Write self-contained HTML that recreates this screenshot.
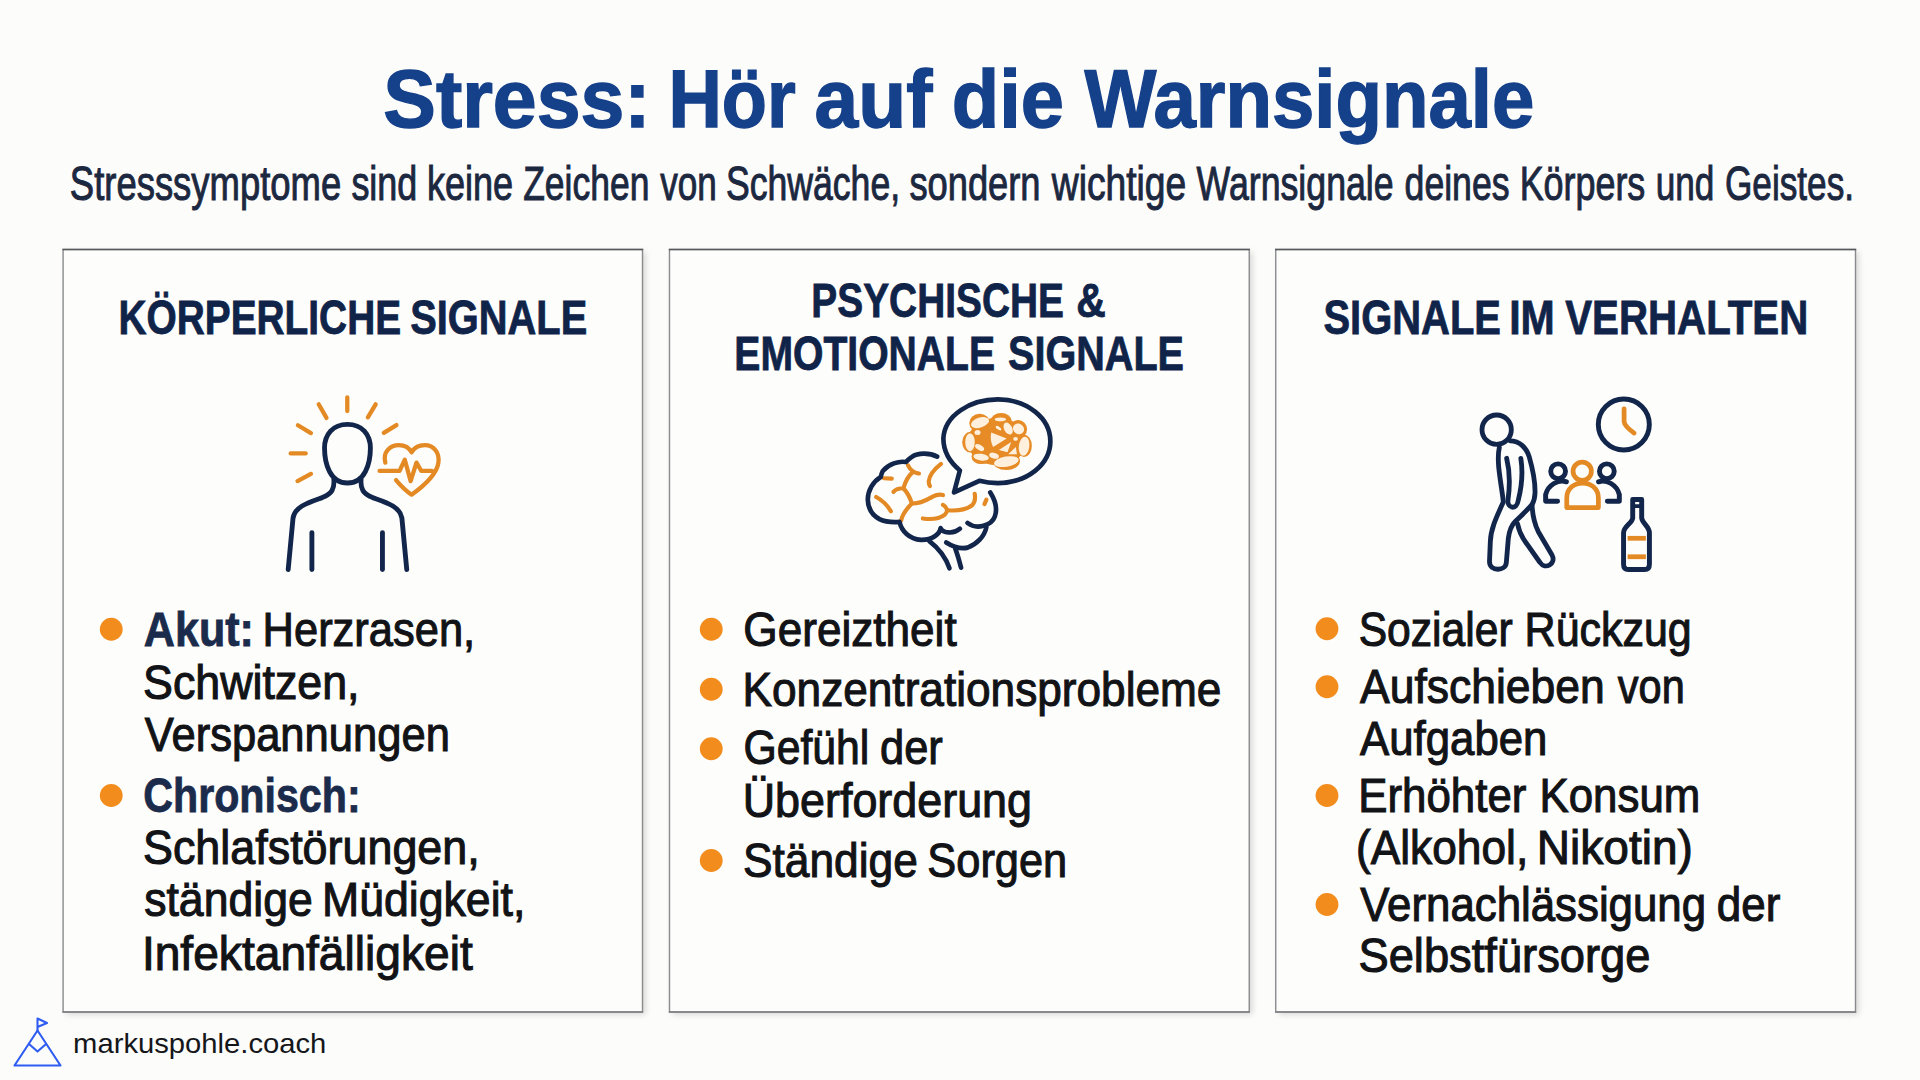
<!DOCTYPE html>
<html lang="de"><head><meta charset="utf-8"><title>Stress: Hör auf die Warnsignale</title>
<style>
html,body{margin:0;padding:0;background:#fcfcfa;}
body{width:1920px;height:1080px;overflow:hidden;position:relative;font-family:"Liberation Sans",sans-serif;}
svg{position:absolute;left:0;top:0;display:block;}
text{font-family:"Liberation Sans",sans-serif;white-space:pre;}
.b{font-weight:700;}
</style></head><body>
<svg width="1920" height="1080" viewBox="0 0 1920 1080">
<defs>
<filter id="sh" x="-5%" y="-5%" width="112%" height="112%"><feGaussianBlur stdDeviation="3"/></filter>
</defs>
<rect width="1920" height="1080" fill="#fcfcfa"/>

<rect x="66.10" y="252.00" width="579.40" height="762.50" fill="#000" opacity="0.15" filter="url(#sh)"/>
<rect x="672.50" y="252.00" width="579.75" height="762.50" fill="#000" opacity="0.15" filter="url(#sh)"/>
<rect x="1278.75" y="252.00" width="579.75" height="762.50" fill="#000" opacity="0.15" filter="url(#sh)"/>
<rect x="63.10" y="249.50" width="579.40" height="762.50" fill="#fdfdfb" stroke="#8a8b8e" stroke-width="1.4"/>
<path d="M62.40 249.50 H643.20" stroke="#56585c" stroke-width="1.3" fill="none"/>
<path d="M62.40 1012.00 H643.20" stroke="#7c7e82" stroke-width="1.5" fill="none"/>
<rect x="669.50" y="249.50" width="579.75" height="762.50" fill="#fdfdfb" stroke="#8a8b8e" stroke-width="1.4"/>
<path d="M668.80 249.50 H1249.95" stroke="#56585c" stroke-width="1.3" fill="none"/>
<path d="M668.80 1012.00 H1249.95" stroke="#7c7e82" stroke-width="1.5" fill="none"/>
<rect x="1275.75" y="249.50" width="579.75" height="762.50" fill="#fdfdfb" stroke="#8a8b8e" stroke-width="1.4"/>
<path d="M1275.05 249.50 H1856.20" stroke="#56585c" stroke-width="1.3" fill="none"/>
<path d="M1275.05 1012.00 H1856.20" stroke="#7c7e82" stroke-width="1.5" fill="none"/>
<g transform="translate(260 380) scale(0.19436)" fill="none" stroke-linecap="round" stroke-linejoin="round">
<g stroke="#12254a" stroke-width="25">
<path d="M450 228 C525 228 568 280 568 350 C568 430 540 530 450 530 C360 530 332 430 332 350 C332 280 375 228 450 228 Z"/>
<path d="M380 512 C384 560 370 585 320 605 C250 630 180 650 170 710 L145 975"/>
<path d="M520 512 C516 560 530 585 580 605 C650 630 720 650 730 710 L755 975"/>
<path d="M267 785 L267 975"/>
<path d="M630 785 L630 975"/>
</g>
<g stroke="#e48a25" stroke-width="22">
<path d="M449 90 L449 160"/>
<path d="M302 125 L342 195"/>
<path d="M595 125 L555 192"/>
<path d="M195 233 L262 273"/>
<path d="M702 232 L637 272"/>
<path d="M158 378 L235 378"/>
<path d="M193 520 L262 483"/>
<path d="M645 425 C630 370 670 335 715 335 C745 335 768 350 780 372 C792 350 815 335 848 335 C895 335 925 375 918 425 C910 480 850 540 780 590 C750 570 725 545 700 515"/>
<path d="M615 468 L718 468 L745 410 L775 520 L805 425 L830 468 L885 468"/>
</g>
</g>
<g fill="none" stroke-linecap="round" stroke-linejoin="round">
<g transform="translate(860 440) scale(0.12965)">
<g stroke="#e48a25" stroke-width="32">
<path d="M185 295 L245 298"/>
<path d="M125 440 C170 465 215 510 238 550"/>
<path d="M370 195 C385 230 420 255 455 258"/>
<path d="M405 250 C360 290 345 335 335 372 C305 372 270 385 258 400"/>
<path d="M335 372 C370 410 388 450 400 490 C350 540 325 580 318 620"/>
<path d="M400 490 C470 492 515 462 560 437 C590 422 615 418 640 425"/>
<path d="M625 185 C570 228 535 270 530 320 C530 335 535 348 540 355"/>
<path d="M485 605 C560 617 620 602 655 575 C685 548 668 515 640 500"/>
<path d="M680 542 C760 548 830 532 868 500 C890 475 890 445 885 415"/>
<path d="M960 495 L975 460"/>
</g>
<g stroke="#12254a" stroke-width="36">
<path d="M595 128 C540 100 450 95 400 130 C385 140 368 155 355 170 C300 160 220 185 175 240 C168 255 163 270 160 285 C100 320 60 390 60 460 C62 530 95 580 150 610 C195 632 250 636 305 632 C320 700 380 765 470 770 C560 772 615 725 622 680 C640 718 720 728 770 685"/>
<path d="M1005 405 C1040 460 1065 520 1040 590 C1015 660 900 695 830 640"/>
<path d="M975 672 C960 745 900 805 830 830 C760 845 700 812 665 790"/>
<path d="M535 780 C600 830 655 885 690 990"/>
<path d="M735 838 C755 890 770 950 780 985"/>
</g>
</g>
<g transform="translate(950 400) scale(0.07407)">
<g fill="#e68b25" stroke="none">
<ellipse cx="635" cy="560" rx="400" ry="320"/>
<ellipse cx="400" cy="310" rx="140" ry="125"/>
<ellipse cx="690" cy="290" rx="145" ry="115"/>
<ellipse cx="920" cy="395" rx="120" ry="125"/>
<ellipse cx="1000" cy="620" rx="105" ry="150"/>
<ellipse cx="760" cy="825" rx="185" ry="120"/>
<ellipse cx="425" cy="765" rx="135" ry="100"/>
<ellipse cx="275" cy="570" rx="110" ry="140"/>
</g>
<g fill="#fef0dc" stroke="none">
<ellipse cx="405" cy="305" rx="127" ry="67" transform="rotate(-18 405 305)"/>
<ellipse cx="680" cy="262" rx="77" ry="26"/>
<ellipse cx="785" cy="385" rx="54" ry="87" transform="rotate(-28 785 385)"/>
<ellipse cx="925" cy="390" rx="77" ry="69" transform="rotate(35 925 390)"/>
<ellipse cx="270" cy="570" rx="64" ry="122"/>
<path d="M556 440 L765 520 L582 636 Q535 540 556 440 Z"/>
<ellipse cx="1000" cy="625" rx="71" ry="129" transform="rotate(8 1000 625)"/>
<ellipse cx="400" cy="642" rx="67" ry="36" transform="rotate(30 400 642)"/>
<path d="M660 676 L826 566 L776 706 Z"/>
<path d="M786 734 L888 636 L904 734 Z"/>
<ellipse cx="420" cy="772" rx="105" ry="46" transform="rotate(8 420 772)"/>
<ellipse cx="595" cy="752" rx="67" ry="38" transform="rotate(15 595 752)"/>
<ellipse cx="760" cy="832" rx="168" ry="69" transform="rotate(-10 760 832)"/>
<ellipse cx="372" cy="440" rx="41" ry="34"/>
<ellipse cx="885" cy="525" rx="31" ry="26"/>
<ellipse cx="655" cy="380" rx="44" ry="20" transform="rotate(35 655 380)"/>
</g>
</g>
<g transform="translate(850 380) scale(0.19452)" stroke="#12254a" stroke-width="24">
<path d="M565 465 C510 420 480 360 480 300 C487 180 620 100 760 100 C910 100 1030 195 1030 315 C1030 435 910 530 760 530 C725 530 695 526 665 518 L535 578 Z"/>
</g>
</g>
<g fill="none" stroke-linecap="round" stroke-linejoin="round">
<g transform="translate(1470 400) scale(0.16667)" stroke="#12254a" stroke-width="29">
<circle cx="160" cy="178" r="88"/>
<path d="M240 245 C300 245 340 290 355 340 C375 410 392 500 390 560 C388 600 380 615 372 628 C340 665 300 700 270 730 C245 755 235 790 230 830 L218 975 C214 1030 118 1030 117 970 L122 850 C125 770 160 700 200 612 C195 560 180 480 172 400 C168 350 170 310 176 285"/>
<path d="M372 628 C375 690 385 740 410 790 L492 930 C520 985 450 1020 420 975 L335 855 C305 815 292 780 285 742"/>
<path d="M220 350 C240 430 242 500 228 600 C222 650 280 665 290 600 C315 500 318 430 305 350"/>
</g>
<g transform="translate(1540 390) scale(0.17591)">
<g stroke="#12254a" stroke-width="28">
<circle cx="476.5" cy="196.5" r="145"/>
<circle cx="103" cy="462" r="42"/>
<path d="M150 522 C105 505 45 540 32 595 L32 632 L100 632"/>
<circle cx="380" cy="462" r="42"/>
<path d="M333 522 C378 505 438 540 451 595 L451 632 L383 632"/>
<path d="M527 622 L578 622 L578 728 C582 760 622 775 622 812 L622 990 Q622 1020 595 1020 L502 1020 Q475 1020 475 990 L475 812 C475 775 522 760 527 728 Z"/>
<path d="M527 660 L578 660" stroke-width="22"/>
</g>
<g stroke="#e48a25" stroke-width="27">
<path d="M478 108 L478 180 Q480 205 535 245"/>
<circle cx="240" cy="462" r="52"/>
<path d="M152 668 L152 615 C152 500 332 500 332 615 L332 668 Z"/>
<path d="M498 843 L602 843" stroke-linecap="butt"/>
<path d="M498 948 L602 948" stroke-linecap="butt"/>
</g>
</g>
</g>
<g fill="none" stroke="#2f5cf2" stroke-width="2.1" stroke-linejoin="round" stroke-linecap="round">
<path d="M37.5 1030.5 L14.5 1065.5 L60.5 1065.5 Z"/>
<path d="M29 1044 L37.5 1051.5 L45.5 1044.5"/>
<path d="M37.5 1030.5 L37.5 1018.5 L47 1023 L37.5 1027"/>
</g>
<circle cx="111.25" cy="629.25" r="11.4" fill="#f28c1c"/>
<circle cx="111.25" cy="795.5" r="11.4" fill="#f28c1c"/>
<circle cx="711.25" cy="629.25" r="11.4" fill="#f28c1c"/>
<circle cx="711.25" cy="689.25" r="11.4" fill="#f28c1c"/>
<circle cx="711.25" cy="748.75" r="11.4" fill="#f28c1c"/>
<circle cx="711.25" cy="860.5" r="11.4" fill="#f28c1c"/>
<circle cx="1327" cy="628.75" r="11.4" fill="#f28c1c"/>
<circle cx="1327" cy="686.75" r="11.4" fill="#f28c1c"/>
<circle cx="1327" cy="795.5" r="11.4" fill="#f28c1c"/>
<circle cx="1327" cy="904.5" r="11.4" fill="#f28c1c"/>
<text class="b" y="126.70" font-size="81.4" fill="#15408a" stroke="#15408a" stroke-width="1.4"><tspan x="383.34" textLength="267.26" lengthAdjust="spacingAndGlyphs">Stress:</tspan> <tspan x="668.40" textLength="127.31" lengthAdjust="spacingAndGlyphs">Hör</tspan> <tspan x="814.60" textLength="117.71" lengthAdjust="spacingAndGlyphs">auf</tspan> <tspan x="951.84" textLength="112.16" lengthAdjust="spacingAndGlyphs">die</tspan> <tspan x="1084.45" textLength="449.92" lengthAdjust="spacingAndGlyphs">Warnsignale</tspan></text>
<text y="200.30" font-size="48.1" fill="#1c2840" stroke="#1c2840" stroke-width="1.0"><tspan x="69.86" textLength="271.33" lengthAdjust="spacingAndGlyphs">Stresssymptome</tspan> <tspan x="351.42" textLength="65.90" lengthAdjust="spacingAndGlyphs">sind</tspan> <tspan x="426.91" textLength="86.24" lengthAdjust="spacingAndGlyphs">keine</tspan> <tspan x="523.19" textLength="126.22" lengthAdjust="spacingAndGlyphs">Zeichen</tspan> <tspan x="660.32" textLength="56.54" lengthAdjust="spacingAndGlyphs">von</tspan> <tspan x="725.90" textLength="174.19" lengthAdjust="spacingAndGlyphs">Schwäche,</tspan> <tspan x="909.41" textLength="131.16" lengthAdjust="spacingAndGlyphs">sondern</tspan> <tspan x="1051.75" textLength="134.53" lengthAdjust="spacingAndGlyphs">wichtige</tspan> <tspan x="1196.57" textLength="197.08" lengthAdjust="spacingAndGlyphs">Warnsignale</tspan> <tspan x="1404.57" textLength="104.99" lengthAdjust="spacingAndGlyphs">deines</tspan> <tspan x="1519.63" textLength="125.69" lengthAdjust="spacingAndGlyphs">Körpers</tspan> <tspan x="1655.71" textLength="58.70" lengthAdjust="spacingAndGlyphs">und</tspan> <tspan x="1724.99" textLength="129.03" lengthAdjust="spacingAndGlyphs">Geistes.</tspan></text>
<text class="b" y="333.50" font-size="48.5" fill="#102348" stroke="#102348" stroke-width="0.8"><tspan x="118.48" textLength="282.62" lengthAdjust="spacingAndGlyphs">KÖRPERLICHE</tspan> <tspan x="410.21" textLength="177.04" lengthAdjust="spacingAndGlyphs">SIGNALE</tspan></text>
<text class="b" y="317.00" font-size="48.5" fill="#102348" stroke="#102348" stroke-width="0.8"><tspan x="811.37" textLength="252.65" lengthAdjust="spacingAndGlyphs">PSYCHISCHE</tspan> <tspan x="1076.36" textLength="29.56" lengthAdjust="spacingAndGlyphs">&amp;</tspan></text>
<text class="b" y="370.00" font-size="48.5" fill="#102348" stroke="#102348" stroke-width="0.8"><tspan x="734.36" textLength="260.67" lengthAdjust="spacingAndGlyphs">EMOTIONALE</tspan> <tspan x="1008.01" textLength="175.97" lengthAdjust="spacingAndGlyphs">SIGNALE</tspan></text>
<text class="b" y="333.50" font-size="48.5" fill="#102348" stroke="#102348" stroke-width="0.8"><tspan x="1323.45" textLength="177.54" lengthAdjust="spacingAndGlyphs">SIGNALE</tspan> <tspan x="1509.23" textLength="45.57" lengthAdjust="spacingAndGlyphs">IM</tspan> <tspan x="1565.20" textLength="243.11" lengthAdjust="spacingAndGlyphs">VERHALTEN</tspan></text>
<text class="b" x="143.82" y="645.50" font-size="48.5" fill="#1b2b4b" stroke="#1b2b4b" stroke-width="0.8" textLength="110.10" lengthAdjust="spacingAndGlyphs">Akut:</text>
<text x="262.57" y="645.50" font-size="48.5" fill="#121316" stroke="#121316" stroke-width="1.1" textLength="212.61" lengthAdjust="spacingAndGlyphs">Herzrasen,</text>
<text x="143.04" y="698.75" font-size="48.5" fill="#121316" stroke="#121316" stroke-width="1.1" textLength="216.49" lengthAdjust="spacingAndGlyphs">Schwitzen,</text>
<text x="144.83" y="751.25" font-size="48.5" fill="#121316" stroke="#121316" stroke-width="1.1" textLength="305.02" lengthAdjust="spacingAndGlyphs">Verspannungen</text>
<text class="b" x="143.25" y="811.50" font-size="48.5" fill="#1b2b4b" stroke="#1b2b4b" stroke-width="0.8" textLength="217.38" lengthAdjust="spacingAndGlyphs">Chronisch:</text>
<text x="143.03" y="863.75" font-size="48.5" fill="#121316" stroke="#121316" stroke-width="1.1" textLength="336.71" lengthAdjust="spacingAndGlyphs">Schlafstörungen,</text>
<text y="916.25" font-size="48.5" fill="#121316" stroke="#121316" stroke-width="1.1"><tspan x="144.21" textLength="168.53" lengthAdjust="spacingAndGlyphs">ständige</tspan> <tspan x="321.98" textLength="203.39" lengthAdjust="spacingAndGlyphs">Müdigkeit,</tspan></text>
<text x="141.90" y="969.50" font-size="48.5" fill="#121316" stroke="#121316" stroke-width="1.1" textLength="330.83" lengthAdjust="spacingAndGlyphs">Infektanfälligkeit</text>
<text x="743.34" y="645.50" font-size="48.5" fill="#121316" stroke="#121316" stroke-width="1.1" textLength="213.35" lengthAdjust="spacingAndGlyphs">Gereiztheit</text>
<text x="742.52" y="705.50" font-size="48.5" fill="#121316" stroke="#121316" stroke-width="1.1" textLength="478.93" lengthAdjust="spacingAndGlyphs">Konzentrationsprobleme</text>
<text y="764.25" font-size="48.5" fill="#121316" stroke="#121316" stroke-width="1.1"><tspan x="743.41" textLength="125.87" lengthAdjust="spacingAndGlyphs">Gefühl</tspan> <tspan x="880.06" textLength="62.77" lengthAdjust="spacingAndGlyphs">der</tspan></text>
<text x="742.68" y="817.25" font-size="48.5" fill="#121316" stroke="#121316" stroke-width="1.1" textLength="289.34" lengthAdjust="spacingAndGlyphs">Überforderung</text>
<text y="877.00" font-size="48.5" fill="#121316" stroke="#121316" stroke-width="1.1"><tspan x="743.06" textLength="174.76" lengthAdjust="spacingAndGlyphs">Ständige</tspan> <tspan x="927.35" textLength="139.91" lengthAdjust="spacingAndGlyphs">Sorgen</tspan></text>
<text y="645.50" font-size="48.5" fill="#121316" stroke="#121316" stroke-width="1.1"><tspan x="1358.63" textLength="154.09" lengthAdjust="spacingAndGlyphs">Sozialer</tspan> <tspan x="1524.61" textLength="167.16" lengthAdjust="spacingAndGlyphs">Rückzug</tspan></text>
<text y="702.50" font-size="48.5" fill="#121316" stroke="#121316" stroke-width="1.1"><tspan x="1360.05" textLength="244.75" lengthAdjust="spacingAndGlyphs">Aufschieben</tspan> <tspan x="1617.84" textLength="66.90" lengthAdjust="spacingAndGlyphs">von</tspan></text>
<text x="1360.05" y="754.50" font-size="48.5" fill="#121316" stroke="#121316" stroke-width="1.1" textLength="187.33" lengthAdjust="spacingAndGlyphs">Aufgaben</text>
<text y="811.75" font-size="48.5" fill="#121316" stroke="#121316" stroke-width="1.1"><tspan x="1358.29" textLength="168.09" lengthAdjust="spacingAndGlyphs">Erhöhter</tspan> <tspan x="1539.55" textLength="160.69" lengthAdjust="spacingAndGlyphs">Konsum</tspan></text>
<text y="863.75" font-size="48.5" fill="#121316" stroke="#121316" stroke-width="1.1"><tspan x="1355.89" textLength="172.36" lengthAdjust="spacingAndGlyphs">(Alkohol,</tspan> <tspan x="1536.87" textLength="156.07" lengthAdjust="spacingAndGlyphs">Nikotin)</tspan></text>
<text y="920.50" font-size="48.5" fill="#121316" stroke="#121316" stroke-width="1.1"><tspan x="1360.33" textLength="345.71" lengthAdjust="spacingAndGlyphs">Vernachlässigung</tspan> <tspan x="1716.79" textLength="63.56" lengthAdjust="spacingAndGlyphs">der</tspan></text>
<text x="1358.51" y="972.00" font-size="48.5" fill="#121316" stroke="#121316" stroke-width="1.1" textLength="291.86" lengthAdjust="spacingAndGlyphs">Selbstfürsorge</text>
<text x="73.10" y="1052.80" font-size="28.5" fill="#15161a" stroke="#15161a" stroke-width="0.0" textLength="253.24" lengthAdjust="spacingAndGlyphs">markuspohle.coach</text>
</svg></body></html>
